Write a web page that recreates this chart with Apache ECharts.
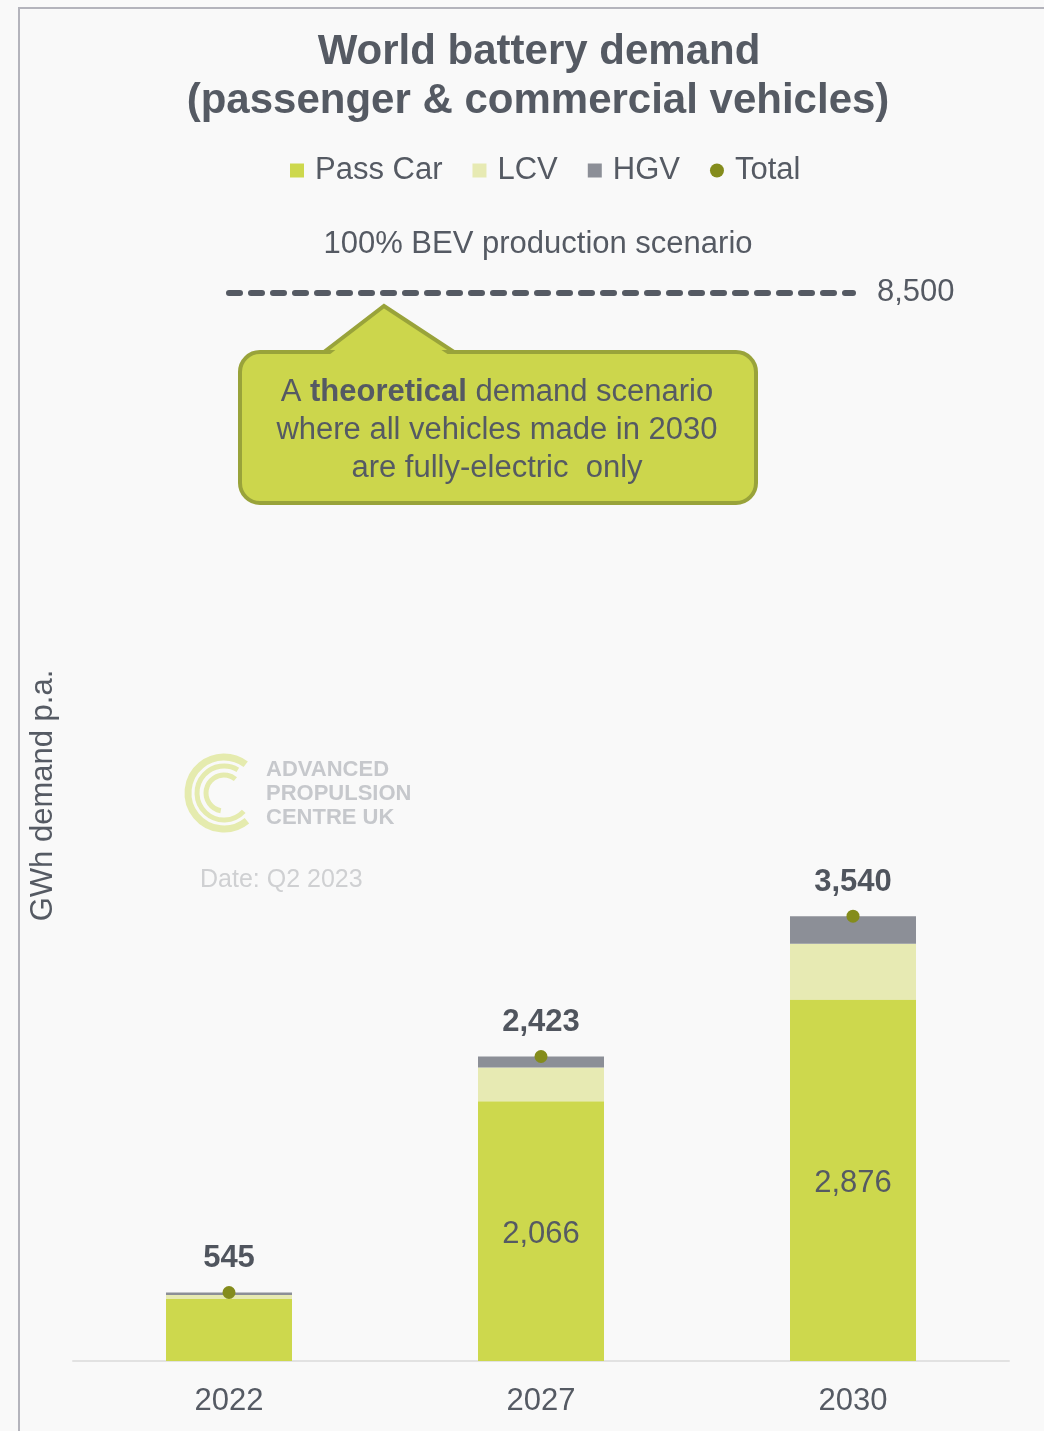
<!DOCTYPE html>
<html>
<head>
<meta charset="utf-8">
<title>World battery demand</title>
<script src="https://cdn.jsdelivr.net/npm/echarts@6/dist/echarts.min.js"></script>
<style>
  html, body { margin: 0; padding: 0; background: #f9f9f9; }
  #chart { width: 1044px; height: 1431px; }
</style>
</head>
<body>
<div id="chart"></div>
<script>
// Battery demand (GWh p.a.) by vehicle segment
const years = ['2022', '2027', '2030'];
const passCar = [493, 2066, 2876];
const lcv = [32, 270, 445];
const hgv = [20, 87, 219];
const totals = [545, 2423, 3540];
const passCarLabelled = [false, true, true];

// 100% BEV production scenario for 2030
const scenarioValue = 8500;
const scenarioName = '100% BEV production scenario';

const FONT = "'Liberation Sans', Arial, sans-serif";
const TEXT = '#555a63';
const fmt = v => Number(v).toLocaleString('en-US');

const chart = echarts.init(document.getElementById('chart'), null, { renderer: 'canvas' });

const option = {
  backgroundColor: '#f9f9f9',
  animation: false,
  textStyle: { fontFamily: FONT, color: TEXT },
  grid: { left: 73, right: 35, top: 230, bottom: 70 },
  legend: {
    left: 290,
    top: 155,
    padding: 0,
    itemWidth: 14,
    itemHeight: 14,
    itemGap: 30,
    textStyle: { fontSize: 31, color: TEXT, fontFamily: FONT, padding: [0, 0, 0, 6] },
    data: [
      { name: 'Pass Car', icon: 'rect' },
      { name: 'LCV', icon: 'rect' },
      { name: 'HGV', icon: 'rect' },
      { name: 'Total', icon: 'circle' }
    ]
  },
  xAxis: {
    type: 'category',
    data: years,
    axisLine: { lineStyle: { color: '#e2e2e2', width: 2 } },
    axisTick: { show: false },
    axisLabel: { fontSize: 31, color: TEXT, margin: 25, fontFamily: FONT }
  },
  yAxis: {
    type: 'value',
    min: 0,
    max: 9000,
    axisLine: { show: false },
    axisTick: { show: false },
    axisLabel: { show: false },
    splitLine: { show: false },
    name: 'GWh demand p.a.',
    nameLocation: 'middle',
    nameRotate: 90,
    nameGap: 14,
    nameTextStyle: { fontSize: 31, color: TEXT, fontFamily: FONT }
  },
  series: [
    {
      name: 'Pass Car',
      type: 'bar',
      stack: 'demand',
      barWidth: 126,
      itemStyle: { color: '#cdd84d' },
      data: passCar.map((v, i) => ({
        value: v,
        label: {
          show: passCarLabelled[i],
          position: 'inside',
          offset: [0, 3],
          fontSize: 31,
          color: TEXT,
          fontFamily: FONT,
          formatter: p => fmt(p.value)
        }
      }))
    },
    {
      name: 'LCV',
      type: 'bar',
      stack: 'demand',
      barWidth: 126,
      itemStyle: { color: '#e7eab3' },
      data: lcv
    },
    {
      name: 'HGV',
      type: 'bar',
      stack: 'demand',
      barWidth: 126,
      itemStyle: { color: '#8c8f97' },
      data: hgv
    },
    {
      name: 'Total',
      type: 'scatter',
      symbol: 'circle',
      symbolSize: 13,
      z: 5,
      itemStyle: { color: '#848c1c', opacity: 1 },
      label: {
        show: true,
        position: 'top',
        distance: 12,
        fontSize: 31,
        fontWeight: 'bold',
        color: '#50555e',
        fontFamily: FONT,
        formatter: p => fmt(p.value)
      },
      data: totals,
      markLine: {
        silent: true,
        symbol: 'none',
        animation: false,
        data: [
          [
            {
              coord: [0, scenarioValue],
              lineStyle: { color: '#555a63', width: 6, type: [11, 11], cap: 'round' },
              label: {
                show: true,
                position: 'end',
                distance: 24,
                fontSize: 31,
                color: TEXT,
                fontFamily: FONT,
                formatter: () => fmt(scenarioValue)
              }
            },
            { coord: [years.length - 1, scenarioValue] }
          ]
        ]
      }
    }
  ],
  graphic: [
    // frame
    {
      type: 'polyline',
      silent: true,
      shape: { points: [[19, 1431], [19, 8], [1044, 8]] },
      style: { stroke: '#b4b4bc', lineWidth: 2, fill: null }
    },
    // title
    {
      type: 'text',
      x: 539,
      y: 52,
      style: {
        text: 'World battery demand',
        font: 'bold 42px ' + FONT,
        fill: TEXT,
        align: 'center',
        verticalAlign: 'middle'
      }
    },
    {
      type: 'text',
      x: 538,
      y: 101,
      style: {
        text: '(passenger & commercial vehicles)',
        font: 'bold 42px ' + FONT,
        fill: TEXT,
        align: 'center',
        verticalAlign: 'middle'
      }
    },
    // scenario caption above the dashed line
    {
      type: 'text',
      x: 538,
      y: 244,
      style: {
        text: scenarioName,
        font: '31px ' + FONT,
        fill: TEXT,
        align: 'center',
        verticalAlign: 'middle'
      }
    },
    // callout box
    {
      type: 'polygon',
      silent: true,
      z: 10,
      shape: { points: [[324, 352], [384, 306], [454, 352]] },
      style: { fill: '#ccd64c', stroke: '#99a33a', lineWidth: 4, lineJoin: 'miter' }
    },
    {
      type: 'rect',
      silent: true,
      z: 10,
      shape: { x: 240, y: 352, width: 516, height: 151, r: 20 },
      style: { fill: '#ccd64c', stroke: '#99a33a', lineWidth: 4 }
    },
    {
      type: 'polygon',
      silent: true,
      z: 11,
      shape: { points: [[329, 355], [384, 312], [449, 355]] },
      style: { fill: '#ccd64c' }
    },
    {
      type: 'text',
      z: 12,
      x: 497,
      y: 430,
      style: {
        text: 'A {b|theoretical} demand scenario\nwhere all vehicles made in 2030\nare fully-electric  only',
        font: '31px ' + FONT,
        fill: TEXT,
        align: 'center',
        verticalAlign: 'middle',
        lineHeight: 38,
        rich: {
          b: { fontFamily: FONT, fontSize: 31, fontWeight: 'bold', fill: TEXT, lineHeight: 38 }
        }
      }
    },
    // watermark logo
    {
      type: 'arc',
      silent: true,
      shape: { cx: 224, cy: 793, r: 36, startAngle: 0.88, endAngle: 5.36, clockwise: true },
      style: { stroke: '#e5ebae', lineWidth: 7, fill: null }
    },
    {
      type: 'arc',
      silent: true,
      shape: { cx: 224, cy: 793, r: 27, startAngle: 0.75, endAngle: 5.25, clockwise: true },
      style: { stroke: '#e5ebae', lineWidth: 5, fill: null }
    },
    {
      type: 'arc',
      silent: true,
      shape: { cx: 224, cy: 793, r: 18, startAngle: 1.75, endAngle: 5.4, clockwise: true },
      style: { stroke: '#e5ebae', lineWidth: 5, fill: null }
    },
    {
      type: 'text',
      x: 266,
      y: 794,
      style: {
        text: 'ADVANCED\nPROPULSION\nCENTRE UK',
        font: '600 22px ' + FONT,
        fill: '#c6c8cc',
        align: 'left',
        verticalAlign: 'middle',
        lineHeight: 24
      }
    },
    {
      type: 'text',
      x: 200,
      y: 880,
      style: {
        text: 'Date: Q2 2023',
        font: '25px ' + FONT,
        fill: '#cfd0d2',
        align: 'left',
        verticalAlign: 'middle'
      }
    }
  ]
};

chart.setOption(option);
</script>
</body>
</html>
